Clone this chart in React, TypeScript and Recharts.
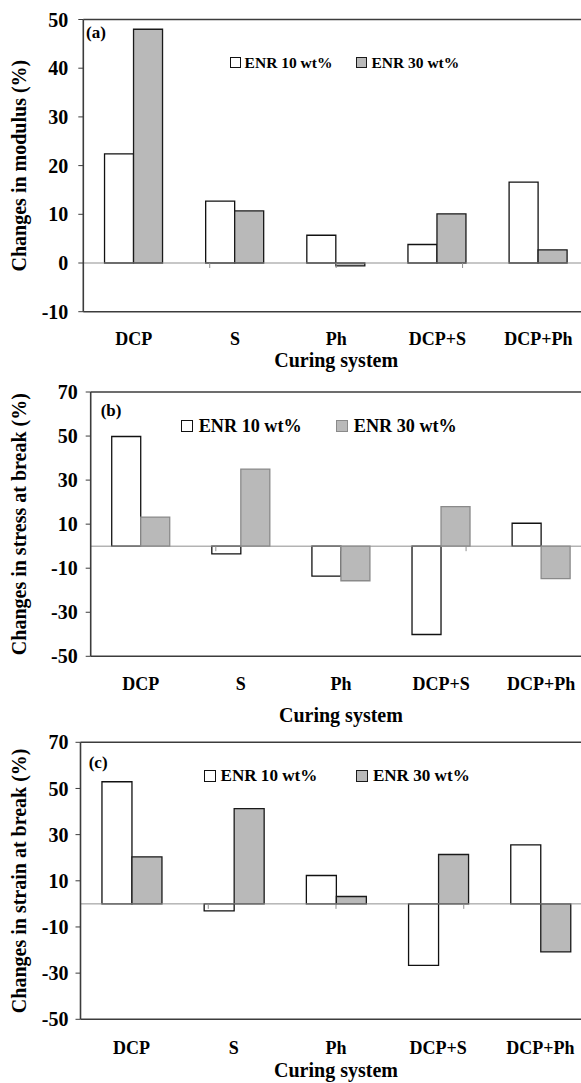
import React from 'react';
import { BarChart, Bar, XAxis, YAxis, ReferenceLine, Legend } from 'recharts';

// ---------- data ----------
const categories = ['DCP', 'S', 'Ph', 'DCP+S', 'DCP+Ph'];
const seriesNames = ['ENR 10 wt%', 'ENR 30 wt%'];

const modulusEnr10 = [22.4, 12.7, 5.7, 3.8, 16.6];
const modulusEnr30 = [48.0, 10.7, -0.6, 10.1, 2.7];

const stressEnr10 = [49.8, -3.5, -13.6, -40.1, 10.4];
const stressEnr30 = [13.2, 35.0, -15.7, 18.0, -14.7];

const strainEnr10 = [52.9, -3.0, 12.3, -26.6, 25.6];
const strainEnr30 = [20.4, 41.3, 3.2, 21.4, -20.8];

const modulusTicks = [-10, 0, 10, 20, 30, 40, 50];
const stressTicks = [-50, -30, -10, 10, 30, 50, 70];
const strainTicks = [-50, -30, -10, 10, 30, 50, 70];

const panelLetters = ['(a)', '(b)', '(c)'];
const yTitles = [
  'Changes in modulus (%)',
  'Changes in stress at break (%)',
  'Changes in strain at break (%)',
];
const xTitle = 'Curing system';

// ---------- styles / layout ----------
const FONT = 'Liberation Serif, DejaVu Serif, serif';
const FRAME = '#3c3c3c';
const ZERO = '#8f8f8f';
const GRAY_FILL = '#b9b9b9';

const buildData = (a: number[], b: number[]) =>
  categories.map((name, i) => ({ name, enr10: a[i], enr30: b[i] }));

const boundaries = categories.slice(1).map((_, i) => i + 1);

const panels = [
  {
    data: buildData(modulusEnr10, modulusEnr30),
    ticks: modulusTicks,
    top: 0,
    height: 375,
    plotTop: 19.5,
    yAxisWidth: 83.3,
    right: 11,
    xAxisHeight: 63.3,
    xTickMargin: 21,
    yTickMargin: 10,
    titleOffset: 8.5,
    grayStroke: '#1a1a1a',
    letter: { x: 86, y: 38 },
    legend: { left: 229.6, top: 52.5, fontSize: 15.5, square: 11, textGap: 4, itemGap: 24 },
  },
  {
    data: buildData(stressEnr10, stressEnr30),
    ticks: stressTicks,
    top: 360,
    height: 370,
    plotTop: 32,
    yAxisWidth: 90.7,
    right: 8.8,
    xAxisHeight: 73.7,
    xTickMargin: 20.7,
    yTickMargin: 8,
    titleOffset: 8,
    grayStroke: '#8a8a8a',
    letter: { x: 100.7, y: 56 },
    legend: { left: 180.7, top: 55.5, fontSize: 18.2, square: 12, textGap: 6, itemGap: 34 },
  },
  {
    data: buildData(strainEnr10, strainEnr30),
    ticks: strainTicks,
    top: 700,
    height: 383,
    plotTop: 42.3,
    yAxisWidth: 80.5,
    right: 8.5,
    xAxisHeight: 63.7,
    xTickMargin: 21.5,
    yTickMargin: 7,
    titleOffset: 6.5,
    grayStroke: '#1a1a1a',
    letter: { x: 88.7, y: 68 },
    legend: { left: 204, top: 66.3, fontSize: 17.1, square: 12, textGap: 4.5, itemGap: 39 },
  },
];

const ZeroTick = (p: any) => (
  <line x1={p.x1} y1={p.y1} x2={p.x1} y2={p.y1 + 5} stroke={ZERO} strokeWidth={1} />
);

const makeLegend = (cfg: any, grayStroke: string) => (props: any) => {
  const payload = props.payload || [];
  const styles = [
    { fill: '#ffffff', stroke: '#111' },
    { fill: GRAY_FILL, stroke: grayStroke },
  ];
  return (
    <div style={{ display: 'flex', alignItems: 'center', height: 20, whiteSpace: 'nowrap' }}>
      {payload.map((entry: any, i: number) => (
        <div
          key={i}
          style={{ display: 'flex', alignItems: 'center', marginRight: i === 0 ? cfg.itemGap : 0 }}
        >
          <div
            style={{
              width: cfg.square,
              height: cfg.square,
              boxSizing: 'border-box',
              background: styles[i % 2].fill,
              border: `1.3px solid ${styles[i % 2].stroke}`,
              marginRight: cfg.textGap,
            }}
          />
          <span
            style={{
              fontFamily: FONT,
              fontWeight: 700,
              fontSize: cfg.fontSize,
              color: '#000',
              lineHeight: '20px',
            }}
          >
            {entry.value}
          </span>
        </div>
      ))}
    </div>
  );
};

const makeYTitle = (title: string) => (props: any) => {
  const vb = props.viewBox || { x: 0, y: 0, width: 0, height: 0 };
  const cx = vb.x + 26.5;
  const cy = vb.y + vb.height / 2;
  return (
    <text
      x={cx}
      y={cy}
      transform={`rotate(-90 ${cx} ${cy})`}
      textAnchor="middle"
      style={{ fontFamily: FONT, fontWeight: 700, fontSize: 20 }}
      fill="#000"
    >
      {title}
    </text>
  );
};

const Panel = ({ cfg, idx }: { cfg: any; idx: number }) => {
  const yMin = cfg.ticks[0];
  const yMax = cfg.ticks[cfg.ticks.length - 1];
  return (
    <div style={{ position: 'absolute', left: 0, top: cfg.top, fontFamily: FONT }}>
      <BarChart
        width={600}
        height={cfg.height}
        data={cfg.data}
        margin={{ top: cfg.plotTop, right: cfg.right, left: 0, bottom: 0 }}
        barCategoryGap="21%"
        barGap={0}
        style={{ fontFamily: FONT }}
      >
        <XAxis
          xAxisId="cat"
          dataKey="name"
          type="category"
          interval={0}
          height={cfg.xAxisHeight}
          tickLine={false}
          tickSize={0}
          tickMargin={cfg.xTickMargin}
          axisLine={{ stroke: FRAME, strokeWidth: 1.6 }}
          tick={{ fontWeight: 700, fontSize: 18, fill: '#000', style: { fontFamily: FONT } }}
          padding={{ left: 0, right: 0 }}
          label={{
            value: xTitle,
            position: 'insideBottom',
            offset: cfg.titleOffset,
            fontWeight: 700,
            fontSize: 20,
            fill: '#000',
            style: { fontFamily: FONT },
          }}
        />
        <XAxis
          xAxisId="num"
          type="number"
          domain={[0, categories.length]}
          allowDataOverflow
          hide
        />
        <YAxis
          type="number"
          width={cfg.yAxisWidth}
          domain={[yMin, yMax]}
          ticks={cfg.ticks}
          interval={0}
          allowDataOverflow
          tickSize={5}
          tickMargin={cfg.yTickMargin}
          axisLine={{ stroke: FRAME, strokeWidth: 1.6 }}
          tickLine={{ stroke: FRAME, strokeWidth: 1 }}
          tick={{ fontWeight: 700, fontSize: 20, fill: '#000', style: { fontFamily: FONT } }}
          label={makeYTitle(yTitles[idx])}
        />
        <ReferenceLine xAxisId="cat" y={yMax} stroke={FRAME} strokeWidth={1.6} />
        <ReferenceLine xAxisId="cat" y={0} stroke={ZERO} strokeWidth={1} />
        {boundaries.map((b) => (
          <ReferenceLine
            key={b}
            xAxisId="num"
            segment={[
              { x: b, y: 0 },
              { x: b, y: 0 },
            ]}
            shape={ZeroTick}
          />
        ))}
        <Bar
          xAxisId="cat"
          dataKey="enr10"
          name={seriesNames[0]}
          fill="#ffffff"
          stroke="#111"
          strokeWidth={1.3}
          isAnimationActive={false}
        />
        <Bar
          xAxisId="cat"
          dataKey="enr30"
          name={seriesNames[1]}
          fill={GRAY_FILL}
          stroke={cfg.grayStroke}
          strokeWidth={1.3}
          isAnimationActive={false}
        />
        <Legend
          layout="horizontal"
          verticalAlign="middle"
          align="center"
          wrapperStyle={{ left: cfg.legend.left, top: cfg.legend.top, width: 'auto', height: 20 }}
          content={makeLegend(cfg.legend, cfg.grayStroke)}
        />
        <text
          x={cfg.letter.x}
          y={cfg.letter.y}
          style={{ fontFamily: FONT, fontWeight: 700, fontSize: 17 }}
          fill="#000"
        >
          {panelLetters[idx]}
        </text>
      </BarChart>
    </div>
  );
}

export default function App() {
  return (
    <div
      style={{
        position: 'absolute',
        left: 0,
        top: 0,
        width: 581,
        height: 1083,
        overflow: 'hidden',
        background: '#fff',
        fontFamily: FONT,
      }}
    >
      {panels.map((cfg, idx) => (
        <Panel key={idx} cfg={cfg} idx={idx} />
      ))}
    </div>
  );
}
